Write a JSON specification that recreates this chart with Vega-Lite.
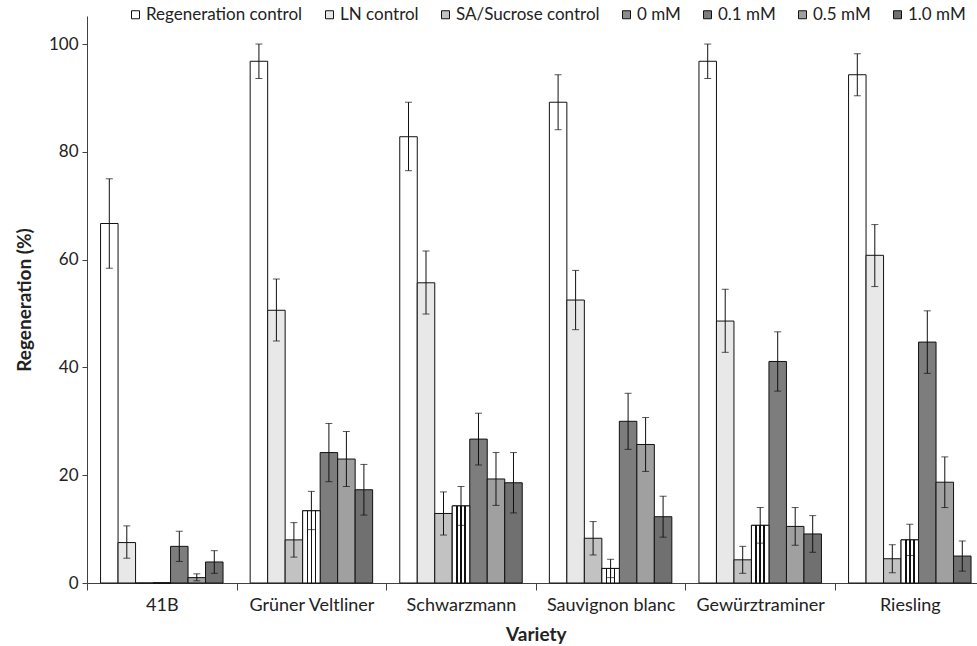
{
  "$schema": "https://vega.github.io/schema/vega-lite/v6.json",
  "width": 890,
  "height": 567,
  "autosize": {"type": "none"},
  "padding": {"left": 87, "top": 16, "right": 0, "bottom": 63},
  "background": "white",
  "config": {
    "view": {"stroke": null},
    "font": "Lato",
    "axis": {"labelFont": "Lato", "titleFont": "Lato", "labelColor": "#222222", "titleColor": "#222222", "domainColor": "#404040", "tickColor": "#404040", "grid": false}
  },
  "data": {
    "values": [
      {"variety": "41B", "treatment": "Regeneration control", "value": 66.7, "lo": 58.4, "hi": 75.0},
      {"variety": "41B", "treatment": "LN control", "value": 7.5, "lo": 4.6, "hi": 10.6},
      {"variety": "41B", "treatment": "SA/Sucrose control", "value": 0},
      {"variety": "41B", "treatment": "0 mM", "value": 0},
      {"variety": "41B", "treatment": "0.1 mM", "value": 6.8, "lo": 4.0, "hi": 9.6},
      {"variety": "41B", "treatment": "0.5 mM", "value": 1.0, "lo": 0.4, "hi": 1.7},
      {"variety": "41B", "treatment": "1.0 mM", "value": 3.9, "lo": 1.8, "hi": 6.0},
      {"variety": "Grüner Veltliner", "treatment": "Regeneration control", "value": 96.8, "lo": 93.6, "hi": 100.0},
      {"variety": "Grüner Veltliner", "treatment": "LN control", "value": 50.6, "lo": 44.9, "hi": 56.4},
      {"variety": "Grüner Veltliner", "treatment": "SA/Sucrose control", "value": 8.0, "lo": 4.8, "hi": 11.2},
      {"variety": "Grüner Veltliner", "treatment": "0 mM", "value": 13.4, "lo": 9.9, "hi": 17.0},
      {"variety": "Grüner Veltliner", "treatment": "0.1 mM", "value": 24.2, "lo": 18.8, "hi": 29.6},
      {"variety": "Grüner Veltliner", "treatment": "0.5 mM", "value": 23.0, "lo": 17.9, "hi": 28.1},
      {"variety": "Grüner Veltliner", "treatment": "1.0 mM", "value": 17.3, "lo": 12.6, "hi": 22.0},
      {"variety": "Schwarzmann", "treatment": "Regeneration control", "value": 82.8, "lo": 76.5, "hi": 89.2},
      {"variety": "Schwarzmann", "treatment": "LN control", "value": 55.7, "lo": 49.9, "hi": 61.6},
      {"variety": "Schwarzmann", "treatment": "SA/Sucrose control", "value": 12.9, "lo": 8.9, "hi": 16.9},
      {"variety": "Schwarzmann", "treatment": "0 mM", "value": 14.3, "lo": 10.7, "hi": 17.9},
      {"variety": "Schwarzmann", "treatment": "0.1 mM", "value": 26.7, "lo": 21.9, "hi": 31.5},
      {"variety": "Schwarzmann", "treatment": "0.5 mM", "value": 19.3, "lo": 14.4, "hi": 24.2},
      {"variety": "Schwarzmann", "treatment": "1.0 mM", "value": 18.6, "lo": 13.0, "hi": 24.2},
      {"variety": "Sauvignon blanc", "treatment": "Regeneration control", "value": 89.2, "lo": 84.1, "hi": 94.3},
      {"variety": "Sauvignon blanc", "treatment": "LN control", "value": 52.5, "lo": 47.0, "hi": 58.0},
      {"variety": "Sauvignon blanc", "treatment": "SA/Sucrose control", "value": 8.3, "lo": 5.2, "hi": 11.4},
      {"variety": "Sauvignon blanc", "treatment": "0 mM", "value": 2.7, "lo": 1.0, "hi": 4.4},
      {"variety": "Sauvignon blanc", "treatment": "0.1 mM", "value": 30.0, "lo": 24.8, "hi": 35.2},
      {"variety": "Sauvignon blanc", "treatment": "0.5 mM", "value": 25.7, "lo": 20.7, "hi": 30.7},
      {"variety": "Sauvignon blanc", "treatment": "1.0 mM", "value": 12.3, "lo": 8.5, "hi": 16.1},
      {"variety": "Gewürztraminer", "treatment": "Regeneration control", "value": 96.8, "lo": 93.6, "hi": 100.0},
      {"variety": "Gewürztraminer", "treatment": "LN control", "value": 48.6, "lo": 42.8, "hi": 54.5},
      {"variety": "Gewürztraminer", "treatment": "SA/Sucrose control", "value": 4.3, "lo": 1.8, "hi": 6.8},
      {"variety": "Gewürztraminer", "treatment": "0 mM", "value": 10.7, "lo": 7.4, "hi": 14.0},
      {"variety": "Gewürztraminer", "treatment": "0.1 mM", "value": 41.1, "lo": 35.6, "hi": 46.6},
      {"variety": "Gewürztraminer", "treatment": "0.5 mM", "value": 10.5, "lo": 7.0, "hi": 14.0},
      {"variety": "Gewürztraminer", "treatment": "1.0 mM", "value": 9.1, "lo": 5.7, "hi": 12.5},
      {"variety": "Riesling", "treatment": "Regeneration control", "value": 94.3, "lo": 90.4, "hi": 98.2},
      {"variety": "Riesling", "treatment": "LN control", "value": 60.8, "lo": 55.0, "hi": 66.5},
      {"variety": "Riesling", "treatment": "SA/Sucrose control", "value": 4.5, "lo": 1.9, "hi": 7.1},
      {"variety": "Riesling", "treatment": "0 mM", "value": 8.0, "lo": 5.1, "hi": 10.9},
      {"variety": "Riesling", "treatment": "0.1 mM", "value": 44.7, "lo": 38.9, "hi": 50.5},
      {"variety": "Riesling", "treatment": "0.5 mM", "value": 18.7, "lo": 14.0, "hi": 23.4},
      {"variety": "Riesling", "treatment": "1.0 mM", "value": 5.0, "lo": 2.2, "hi": 7.8}
    ]
  },
  "encoding": {
    "x": {
      "field": "variety", "type": "nominal", "sort": null,
      "scale": {"paddingInner": 0, "paddingOuter": 0, "range": [0, 897.6]},
      "axis": {"title": "Variety", "labelAngle": 0, "tickBand": "extent", "tickSize": 7, "labelFontSize": 18, "labelPadding": 6, "titleFontSize": 19, "titleFontWeight": "bold", "titlePadding": 11}
    },
    "xOffset": {
      "field": "treatment", "type": "nominal", "sort": null,
      "scale": {"domain": ["Regeneration control", "LN control", "SA/Sucrose control", "0 mM", "0.1 mM", "0.5 mM", "1.0 mM"], "paddingInner": 0, "paddingOuter": 0.775}
    }
  },
  "layer": [
    {
      "mark": {"type": "bar", "stroke": "#111111", "strokeWidth": 1},
      "encoding": {
        "y": {
          "field": "value", "type": "quantitative",
          "scale": {"domain": [0, 105.2], "nice": false},
          "axis": {"title": "Regeneration (%)", "values": [0, 20, 40, 60, 80, 100], "tickSize": 5, "labelFontSize": 17, "labelPadding": 4, "titleFontSize": 19, "titleFontWeight": "bold", "titlePadding": 14}
        },
        "fill": {
          "field": "treatment", "type": "nominal", "sort": null,
          "scale": {"domain": ["Regeneration control", "LN control", "SA/Sucrose control", "0 mM", "0.1 mM", "0.5 mM", "1.0 mM"], "range": ["#ffffff", "#e8e8e8", "#c2c2c2", "#8c8c8c", "#7d7d7d", "#a0a0a0", "#707070"]},
          "legend": {"orient": "none", "legendX": 40, "legendY": -10, "direction": "horizontal", "columns": 7, "title": null, "symbolType": "square", "symbolSize": 64, "symbolStrokeColor": "#111111", "symbolStrokeWidth": 1, "labelFontSize": 17, "labelFont": "Lato", "labelColor": "#222222", "labelOffset": 2, "labelLimit": 400, "columnPadding": 18}
        }
      }
    },
    {
      "transform": [{"filter": "datum.treatment === '0 mM'"}],
      "mark": {"type": "bar", "stroke": "#111111", "strokeWidth": 1,
        "fill": {"gradient": "linear", "x1": 0, "y1": 0, "x2": 1, "y2": 0, "stops": [
          {"offset": 0, "color": "#ffffff"}, {"offset": 0.22, "color": "#ffffff"},
          {"offset": 0.22, "color": "#111111"}, {"offset": 0.32, "color": "#111111"},
          {"offset": 0.32, "color": "#ffffff"}, {"offset": 0.45, "color": "#ffffff"},
          {"offset": 0.45, "color": "#111111"}, {"offset": 0.55, "color": "#111111"},
          {"offset": 0.55, "color": "#ffffff"}, {"offset": 0.68, "color": "#ffffff"},
          {"offset": 0.68, "color": "#111111"}, {"offset": 0.78, "color": "#111111"},
          {"offset": 0.78, "color": "#ffffff"}, {"offset": 1, "color": "#ffffff"}]}},
      "encoding": {
        "y": {"field": "value", "type": "quantitative"}
      }
    },
    {
      "mark": {"type": "rule", "color": "#111111", "strokeWidth": 1},
      "encoding": {
        "y": {"field": "lo", "type": "quantitative"},
        "y2": {"field": "hi"}
      }
    },
    {
      "mark": {"type": "tick", "color": "#111111", "thickness": 1, "size": 7},
      "encoding": {
        "y": {"field": "lo", "type": "quantitative"}
      }
    },
    {
      "mark": {"type": "tick", "color": "#111111", "thickness": 1, "size": 7},
      "encoding": {
        "y": {"field": "hi", "type": "quantitative"}
      }
    }
  ]
}
